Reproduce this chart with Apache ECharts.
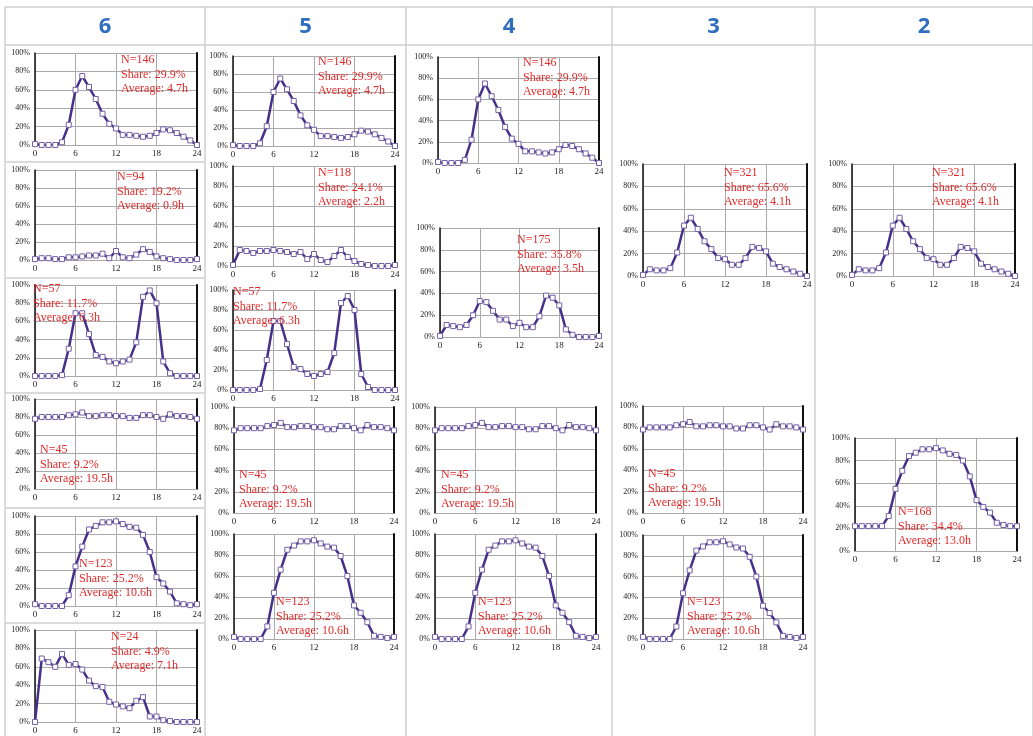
<!DOCTYPE html>
<html>
<head>
<meta charset="utf-8">
<script src="https://cdn.jsdelivr.net/npm/echarts@6/dist/echarts.min.js"></script>
<style>
  html, body { margin: 0; padding: 0; background: #fff; }
  #main { width: 1033px; height: 736px; }
</style>
</head>
<body>
<div id="main"></div>
<script>
// hours of the day
var hours = [0,1,2,3,4,5,6,7,8,9,10,11,12,13,14,15,16,17,18,19,20,21,22,23,24];
var xTicks = [0, 6, 12, 18, 24];
var columnTitles = ['6', '5', '4', '3', '2'];

// share of devices on, per hour (%)
var p146 = [1,0,0,0,3,22,60,75,63,50,34,23,18,11,11,10,9,10,13,17,16,13,9,5,0];
var p94  = [1,2,2,1,1,3,3,4,5,5,7,2,10,3,2,6,12,9,4,2,1,0,0,0,1];
var p57  = [0,0,0,0,1,30,69,69,46,23,21,16,14,16,18,37,87,94,80,16,3,0,0,0,0];
var p45  = [78,80,80,80,80,82,83,85,81,81,82,82,81,81,79,79,82,82,80,78,83,81,81,80,78];
var p123 = [2,0,0,0,0,12,44,66,85,89,93,93,94,91,88,87,79,60,32,25,16,3,2,1,2];
var p24  = [0,69,65,60,74,62,63,57,45,39,38,22,19,17,15,23,27,6,6,2,1,0,0,0,0];
var p118 = [1,16,15,13,15,15,16,15,14,12,14,7,12,6,4,10,16,9,5,2,1,0,0,0,1];
var p175 = [1,11,10,9,11,20,33,32,24,16,16,10,13,9,9,19,38,36,29,7,2,0,0,0,1];
var p321 = [1,6,5,5,7,21,45,52,42,31,24,16,15,10,10,16,26,25,22,11,8,6,4,2,0];
var p168 = [22,22,22,22,22,31,55,71,84,87,90,90,91,89,86,85,80,66,45,39,34,25,23,22,22];

var profiles = {
  p146: {data: p146, label: 'N=146\nShare: 29.9%\nAverage: 4.7h'},
  p94:  {data: p94,  label: 'N=94\nShare: 19.2%\nAverage: 0.9h'},
  p57:  {data: p57,  label: 'N=57\nShare: 11.7%\nAverage: 6.3h'},
  p45:  {data: p45,  label: 'N=45\nShare: 9.2%\nAverage: 19.5h'},
  p123: {data: p123, label: 'N=123\nShare: 25.2%\nAverage: 10.6h'},
  p24:  {data: p24,  label: 'N=24\nShare: 4.9%\nAverage: 7.1h'},
  p118: {data: p118, label: 'N=118\nShare: 24.1%\nAverage: 2.2h'},
  p175: {data: p175, label: 'N=175\nShare: 35.8%\nAverage: 3.5h'},
  p321: {data: p321, label: 'N=321\nShare: 65.6%\nAverage: 4.1h'},
  p168: {data: p168, label: 'N=168\nShare: 34.4%\nAverage: 13.0h'}
};

// plot boxes: [profile, left, top, right, bottom, textX, textY]
var panels = [
  ['p146', 35, 53, 197, 145, 121, 53],
  ['p94',  35, 170, 197, 260, 117, 170],
  ['p57',  35, 285, 197, 376, 33, 282],
  ['p45',  35, 399, 197, 489, 40, 443],
  ['p123', 35, 516, 197, 606, 79, 557],
  ['p24',  35, 630, 197, 722, 111, 630],

  ['p146', 233, 56, 395, 146, 318, 55],
  ['p118', 233, 166, 395, 266, 318, 166],
  ['p57',  233, 290, 395, 390, 233, 285],
  ['p45',  234, 407, 394, 513, 239, 468],
  ['p123', 234, 534, 394, 639, 276, 595],

  ['p146', 438, 57, 599, 163, 523, 56],
  ['p175', 440, 228, 599, 337, 517, 233],
  ['p45',  435, 407, 596, 513, 441, 468],
  ['p123', 435, 534, 596, 639, 478, 595],

  ['p321', 643, 164, 807, 276, 724, 166],
  ['p45',  643, 406, 803, 513, 648, 467],
  ['p123', 643, 535, 803, 639, 687, 595],

  ['p321', 852, 164, 1015, 276, 932, 166],
  ['p168', 855, 438, 1017, 551, 898, 505]
];

var chart = echarts.init(document.getElementById('main'));

var serif = '"Liberation Serif", "DejaVu Serif", serif';
var gridCol = '#aaaaaa';
var lineCol = '#45308a';

var grids = [], xAxes = [], yAxes = [], series = [], titles = [];

panels.forEach(function (p, i) {
  var prof = profiles[p[0]];
  grids.push({left: p[1], top: p[2], width: p[3] - p[1], height: p[4] - p[2]});
  xAxes.push({
    type: 'value', gridIndex: i, min: 0, max: 24, interval: 6,
    axisLine: {show: true, lineStyle: {color: gridCol, width: 1}},
    axisTick: {show: false},
    axisLabel: {fontSize: 9, fontFamily: serif, color: '#222', margin: 4,
      customValues: xTicks},
    splitLine: {show: true, lineStyle: {color: gridCol, width: 1}}
  });
  yAxes.push({
    type: 'value', gridIndex: i, min: 0, max: 100, interval: 20,
    axisLine: {show: true, lineStyle: {color: '#111', width: 1.5}},
    axisTick: {show: false},
    axisLabel: {fontSize: 8, fontFamily: serif, color: '#222', margin: 5,
      formatter: '{value}%'},
    splitLine: {show: true, lineStyle: {color: gridCol, width: 1}}
  });
  yAxes.push({
    type: 'value', gridIndex: i, min: 0, max: 100, position: 'right',
    axisLine: {show: true, lineStyle: {color: '#111', width: 2}},
    axisTick: {show: false}, axisLabel: {show: false}, splitLine: {show: false}
  });
  series.push({
    type: 'line', xAxisIndex: i, yAxisIndex: i * 2,
    data: hours.map(function (h, k) { return [h, prof.data[k]]; }),
    symbol: 'rect', symbolSize: 5, showAllSymbol: true,
    lineStyle: {color: lineCol, width: 2.5},
    itemStyle: {color: '#fff', borderColor: '#7462a6', borderWidth: 1},
    animation: false, z: 3
  });
  titles.push({
    text: prof.label, left: p[5], top: p[6], padding: 0,
    textStyle: {fontSize: 12, fontWeight: 'normal', fontFamily: serif,
      color: '#e02a2a', lineHeight: 14.5}
  });
});

// table frame
var tableCol = '#cfcfcf';
var colX = [5, 205, 406, 612, 815, 1033];
var graphics = [];
function hline(x1, x2, y) {
  graphics.push({type: 'line', shape: {x1: x1, y1: y, x2: x2, y2: y},
    style: {stroke: tableCol, lineWidth: 1.5}, silent: true, z: 0});
}
function vline(x, y1, y2) {
  graphics.push({type: 'line', shape: {x1: x, y1: y1, x2: x, y2: y2},
    style: {stroke: tableCol, lineWidth: 1.5}, silent: true, z: 0});
}
hline(5, 1033, 7);
hline(5, 1033, 45);
[162, 278, 393, 508, 623].forEach(function (y) { hline(5, 205, y); });
colX.forEach(function (x) { vline(x, 7, 736); });
columnTitles.forEach(function (t, i) {
  graphics.push({type: 'text', x: (colX[i] + colX[i + 1]) / 2, y: 27,
    style: {text: t, fill: '#2f6ebf', font: 'bold 22px "Open Sans", "Liberation Sans", sans-serif',
      textAlign: 'center', textVerticalAlign: 'middle'}, silent: true});
});

chart.setOption({
  animation: false,
  title: titles,
  grid: grids,
  xAxis: xAxes,
  yAxis: yAxes,
  series: series,
  graphic: graphics
});
</script>
</body>
</html>
